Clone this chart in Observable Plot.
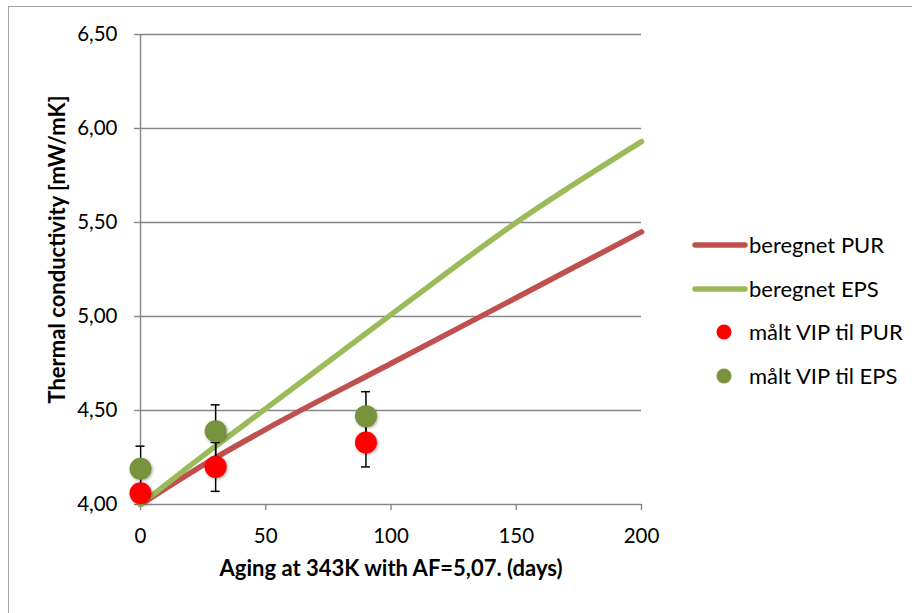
<!DOCTYPE html>
<html>
<head>
<meta charset="utf-8">
<script src="https://cdn.jsdelivr.net/npm/d3@7"></script>
<script src="https://cdn.jsdelivr.net/npm/@observablehq/plot@0.6"></script>
<style>
  html, body { margin: 0; padding: 0; background: #fff; }
  #wrap { position: relative; width: 912px; height: 613px; overflow: hidden; font-family: Lato, "Open Sans", sans-serif; }
  #frame { position: absolute; left: 8px; top: 6px; width: 1000px; height: 1000px; border: 1.5px solid #a3a3a3; box-sizing: border-box; }
  #plot { position: absolute; left: 0; top: 0; }
  #legend { position: absolute; left: 690px; top: 230px; }
  .row { position: absolute; left: 0; height: 30px; width: 220px; }
  .row span { position: absolute; left: 59px; top: 0; line-height: 30px; font-size: 22px; color: #000; white-space: nowrap; }
  .row svg { position: absolute; left: 0; top: 0; }
</style>
</head>
<body>
<div id="wrap">
  <div id="frame"></div>
  <div id="plot"></div>
  <div id="legend"></div>
</div>
<script>
// ---- data ----
const days = [0, 25, 50, 100, 150, 200];
const calcPUR = [4.00, 4.21, 4.40, 4.75, 5.10, 5.45];
const calcEPS = [4.00, 4.26, 4.51, 5.01, 5.50, 5.93];

const measDays = [0, 30, 90];
const measPUR = [4.06, 4.20, 4.33];
const measEPS = [4.19, 4.39, 4.47];
const errPUR = [0.13, 0.13, 0.13];
const errEPS = [0.12, 0.14, 0.13];

const yTicks = [4.0, 4.5, 5.0, 5.5, 6.0, 6.5];
const xTicks = [0, 50, 100, 150, 200];

const seriesNames = ["beregnet PUR", "beregnet EPS", "målt VIP til PUR", "målt VIP til EPS"];
const colors = { pur: "#C0504D", eps: "#9BBB59", mPur: "#FF0000", mEps: "#77933C" };

// ---- tables ----
const linePUR = days.map((d, i) => ({ x: d, y: calcPUR[i] }));
const lineEPS = days.map((d, i) => ({ x: d, y: calcEPS[i] }));
const ptsPUR = measDays.map((d, i) => ({ x: d, y: measPUR[i], lo: measPUR[i] - errPUR[i], hi: measPUR[i] + errPUR[i] }));
const ptsEPS = measDays.map((d, i) => ({ x: d, y: measEPS[i], lo: measEPS[i] - errEPS[i], hi: measEPS[i] + errEPS[i] }));
const allPts = [...ptsPUR, ...ptsEPS];

const fmt = d => d.toFixed(2).replace(".", ",");
const grey = "#868686";

const chart = Plot.plot({
  width: 912,
  height: 613,
  marginLeft: 140,
  marginRight: 271,
  marginTop: 34,
  marginBottom: 109,
  style: { fontFamily: "Lato, 'Open Sans', sans-serif", background: "transparent", overflow: "visible" },
  x: { domain: [0, 200] },
  y: { domain: [4, 6.5] },
  marks: [
    Plot.gridY(yTicks.slice(1), { stroke: grey, strokeOpacity: 1, strokeWidth: 1.4 }),
    Plot.ruleX([0], { stroke: grey, strokeWidth: 1.4 }),
    Plot.ruleY([4], { stroke: grey, strokeWidth: 1.4 }),
    Plot.axisY({ ticks: yTicks, tickFormat: fmt, tickSize: 6, tickPadding: 17, stroke: grey, strokeWidth: 1.4, fontSize: 20.5, color: "#000", label: null }),
    Plot.axisX({ ticks: xTicks, tickSize: 6, tickPadding: 18, stroke: grey, strokeWidth: 1.4, fontSize: 20.5, color: "#000", label: null }),
    Plot.text(["Thermal conductivity [mW/mK]"], { frameAnchor: "left", textAnchor: "middle", dx: -83, dy: -20, rotate: -90, fontWeight: "bold", fontSize: 22, fill: "#000" }),
    Plot.text(["Aging at 343K with AF=5,07. (days)"], { frameAnchor: "bottom", textAnchor: "middle", dy: 71, fontWeight: "bold", fontSize: 22, fill: "#000" }),
    Plot.line(linePUR, { x: "x", y: "y", stroke: colors.pur, strokeWidth: 5.5, curve: "monotone-x", strokeLinecap: "round" }),
    Plot.line(lineEPS, { x: "x", y: "y", stroke: colors.eps, strokeWidth: 5.5, curve: "monotone-x", strokeLinecap: "round" }),
    Plot.ruleX(allPts, { x: "x", y1: "lo", y2: "hi", stroke: "#000", strokeWidth: 1.5, clip: true }),
    Plot.ruleY(allPts.filter(d => d.lo >= 4), { y: "lo", x1: "x", x2: "x", insetLeft: -4.5, insetRight: -4.5, stroke: "#000", strokeWidth: 1.5 }),
    Plot.ruleY(allPts, { y: "hi", x1: "x", x2: "x", insetLeft: -4.5, insetRight: -4.5, stroke: "#000", strokeWidth: 1.5 }),
    Plot.dot(ptsPUR, { x: "x", y: "y", r: 11, fill: colors.mPur, stroke: "none" }),
    Plot.dot(ptsEPS, { x: "x", y: "y", r: 11, fill: colors.mEps, stroke: "none" })
  ]
});
chart.querySelectorAll("g[aria-label='dot'] circle").forEach(c => c.style.filter = "drop-shadow(1px 1px 1.5px rgba(0,0,0,0.35))");
document.getElementById("plot").appendChild(chart);

// ---- legend ----
const legend = document.getElementById("legend");
const swatches = [
  { type: "line", color: colors.pur },
  { type: "line", color: colors.eps },
  { type: "dot", color: colors.mPur },
  { type: "dot", color: colors.mEps }
];
seriesNames.forEach((name, i) => {
  const row = document.createElement("div");
  row.className = "row";
  row.style.top = (i * 43.7) + "px";
  const sw = swatches[i];
  const svg = sw.type === "line"
    ? `<svg width="60" height="30"><line x1="5" y1="15" x2="55" y2="15" stroke="${sw.color}" stroke-width="5.5" stroke-linecap="round"/></svg>`
    : `<svg width="60" height="30"><circle cx="34" cy="15" r="7.5" fill="${sw.color}"/></svg>`;
  row.innerHTML = svg + `<span>${name}</span>`;
  legend.appendChild(row);
});
</script>
</body>
</html>
